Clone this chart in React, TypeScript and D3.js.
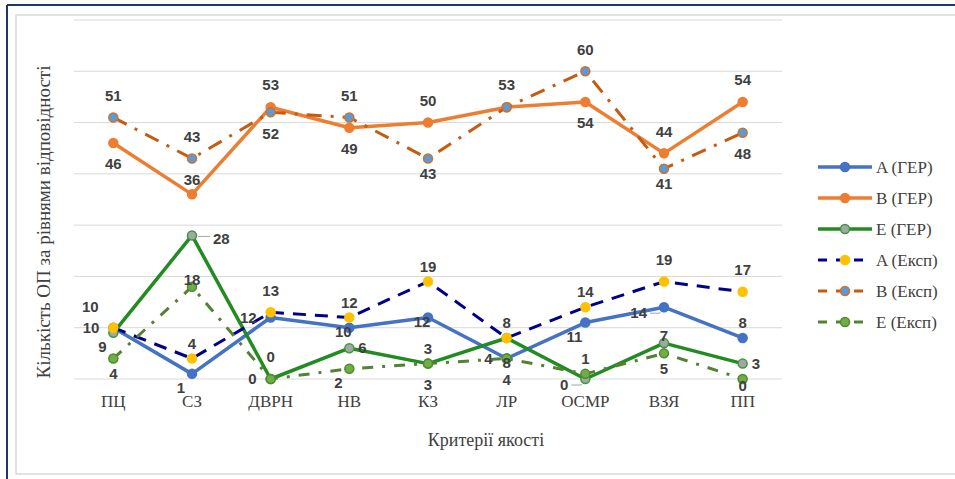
import React from "react";
import * as d3 from "d3";

// categories (quality criteria)
const categories = ["ПЦ", "СЗ", "ДВРН", "НВ", "КЗ", "ЛР", "ОСМР", "ВЗЯ", "ПП"];

// series values
const aGer = [10, 1, 12, 10, 12, 4, 11, 14, 8];
const bGer = [46, 36, 53, 49, 50, 53, 54, 44, 54];
const eGer = [9, 28, 0, 6, 3, 8, 0, 7, 3];
const aExp = [10, 4, 13, 12, 19, 8, 14, 19, 17];
const bExp = [51, 43, 52, 51, 43, 53, 60, 41, 48];
const eExp = [4, 18, 0, 2, 3, 4, 1, 5, 0];

const yTicks = [0, 10, 20, 30, 40, 50, 60, 70];

// where each data label sits relative to its point
const aGerPos = ["l", "bl", "l", "c", "c", "B", "bl", "lf", "t"];
const bGerPos = ["B", "t", "T", "B", "T", "T", "B", "T", "T"];
const eGerPos = ["bl", "rf", "l", "r", "B", "bb", "lf", "tn", "r"];
const aExpPos = ["tl", "t", "T", "t", "t", "t", "t", "T", "T"];
const bExpPos = ["T", "T", "B", "T", "b", "-", "T", "b", "B"];
const eExpPos = ["b", "tn", "T", "bl", "t", "l", "t", "b", "bn"];

const W = 955;
const H = 479;
const margin = { left: 74, right: 173, top: 20, bottom: 100 };

const labelOffsets = {
  T: [0, -22, "middle"],
  t: [0, -15, "middle"],
  tn: [0, -7, "middle"],
  B: [0, 21, "middle"],
  b: [0, 15, "middle"],
  bn: [0, 7, "middle"],
  bb: [0, 25, "middle"],
  l: [-14, 0, "end"],
  r: [9, 0, "start"],
  c: [-6, 4, "middle"],
  tl: [-23, -21, "middle"],
  bl: [-11, 14, "middle"],
  lf: [-17, 6, "end"],
  rf: [21, 3, "start"],
};

const series = [
  { name: "A (ГЕР)", values: aGer, pos: aGerPos, stroke: "#4472C4", width: 3.5, dash: null, fill: "#4472C4", mStroke: "#4472C4" },
  { name: "B (ГЕР)", values: bGer, pos: bGerPos, stroke: "#ED7D31", width: 3.5, dash: null, fill: "#ED7D31", mStroke: "#ED7D31" },
  { name: "E (ГЕР)", values: eGer, pos: eGerPos, stroke: "#228B22", width: 3.5, dash: null, fill: "#A5A5A5", mStroke: "#3C9A3C" },
  { name: "A (Експ)", values: aExp, pos: aExpPos, stroke: "#00008B", width: 3, dash: "13 9", fill: "#FFC000", mStroke: "#FFC000" },
  { name: "B (Експ)", values: bExp, pos: bExpPos, stroke: "#C55A11", width: 3, dash: "15 9 3 9", fill: "#5B9BD5", mStroke: "#D0702A" },
  { name: "E (Експ)", values: eExp, pos: eExpPos, stroke: "#548235", width: 3, dash: "11 9 3 9", fill: "#70AD47", mStroke: "#4E8A2E" },
];

const serif = "'Liberation Serif', 'Times New Roman', serif";
const sans = "'Liberation Sans', Arial, sans-serif";

export default function App() {
  const x = d3
    .scalePoint()
    .domain(categories)
    .range([margin.left, W - margin.right])
    .padding(0.5);
  const y = d3.scaleLinear().domain([0, 70]).range([379, margin.top]);

  const line = (vals) =>
    d3
      .line()
      .x((d, i) => x(categories[i]))
      .y((d) => y(d))(vals);

  return (
    <div style={{ position: "absolute", left: 0, top: 0 }}>
      <svg width={W} height={H} style={{ display: "block", background: "#fff" }}>
        {/* frame */}
        <rect x={16} y={15} width={W} height={459} fill="none" stroke="#D9D9D9" strokeWidth={1.5} />
        <line x1={7} y1={5} x2={W} y2={5} stroke="#203864" strokeWidth={2} />
        <line x1={7} y1={5} x2={7} y2={H} stroke="#203864" strokeWidth={2} />

        {/* gridlines */}
        {yTicks.map((t) => (
          <line
            key={t}
            x1={margin.left}
            x2={W - margin.right}
            y1={y(t)}
            y2={y(t)}
            stroke="#D9D9D9"
            strokeWidth={1}
          />
        ))}

        {/* category labels */}
        {categories.map((c) => (
          <text key={c} x={x(c)} y={407} textAnchor="middle" fontFamily={serif} fontSize={17} fill="#404040">
            {c}
          </text>
        ))}

        {/* axis titles */}
        <text x={486} y={446} textAnchor="middle" fontFamily={serif} fontSize={18} fill="#404040">
          Критерії якості
        </text>
        <text
          transform="translate(50,222) rotate(-90)"
          textAnchor="middle"
          fontFamily={serif}
          fontSize={19}
          fill="#404040"
        >
          Кількість ОП за рівнями відповідності
        </text>

        {/* lines + markers */}
        {series.map((s) => (
          <g key={s.name}>
            <path
              d={line(s.values)}
              fill="none"
              stroke={s.stroke}
              strokeWidth={s.width}
              strokeDasharray={s.dash || undefined}
              strokeLinejoin="round"
            />
            {s.values.map((v, i) => (
              <circle
                key={i}
                cx={x(categories[i])}
                cy={y(v)}
                r={4.5}
                fill={s.fill}
                stroke={s.mStroke}
                strokeWidth={1.5}
              />
            ))}
          </g>
        ))}

        {/* data labels */}
        {series.map((s) =>
          s.values.map((v, i) => {
            const p = s.pos[i];
            if (p === "-") return null;
            const [dx, dy, anchor] = labelOffsets[p];
            const px = x(categories[i]);
            const py = y(v);
            return (
              <g key={s.name + i}>
                {p === "rf" && (
                  <line x1={px + 6} x2={px + dx - 3} y1={py + 1} y2={py + 1} stroke="#A6A6A6" strokeWidth={1} />
                )}
                {p === "lf" && (
                  <polyline
                    points={`${px + dx + 3},${py + dy} ${px - 4},${py + dy} ${px - 4},${py + 5}`}
                    fill="none"
                    stroke="#A6A6A6"
                    strokeWidth={1}
                  />
                )}
                <text
                  x={px + dx}
                  y={py + dy}
                  dy="0.35em"
                  textAnchor={anchor}
                  fontFamily={sans}
                  fontWeight="bold"
                  fontSize={15}
                  fill="#404040"
                >
                  {v}
                </text>
              </g>
            );
          })
        )}

        {/* legend */}
        {series.map((s, i) => {
          const ly = 167 + i * 31;
          return (
            <g key={s.name}>
              <line
                x1={818}
                x2={872}
                y1={ly}
                y2={ly}
                stroke={s.stroke}
                strokeWidth={s.width}
                strokeDasharray={s.dash ? "9 9" : undefined}
              />
              <circle cx={845} cy={ly} r={4.5} fill={s.fill} stroke={s.mStroke} strokeWidth={1.5} />
              <text x={876} y={ly} dy="0.35em" fontFamily={serif} fontSize={17} fill="#404040">
                {s.name}
              </text>
            </g>
          );
        })}
      </svg>
    </div>
  );
}
